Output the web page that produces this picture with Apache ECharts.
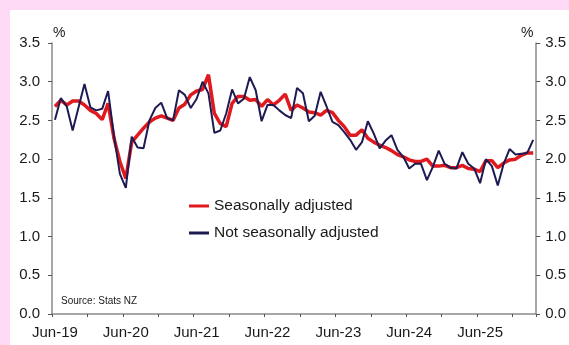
<!DOCTYPE html>
<html>
<head>
<meta charset="utf-8">
<script src="https://cdn.jsdelivr.net/npm/echarts@6/dist/echarts.min.js"></script>
<style>
  html, body { margin: 0; padding: 0; background: #fdd9f5; width: 569px; height: 345px; overflow: hidden; }
  #chart { position: absolute; left: 10px; top: 10px; width: 559px; height: 335px; background: #ffffff; }
</style>
</head>
<body>
<div id="chart"></div>
<script>
// Monthly observations, Jun-19 onwards (annual % change)
const startYear = 2019;
const startMonth = 5; // June (0-based)
const pointCount = 82;

const seasonallyAdjusted = [
  2.68, 2.76, 2.70, 2.75, 2.75, 2.70, 2.63, 2.59, 2.51, 2.72,
  2.27, 1.97, 1.75, 2.22, 2.31, 2.40, 2.48, 2.53, 2.56, 2.53,
  2.50, 2.66, 2.71, 2.83, 2.88, 2.90, 3.09, 2.59, 2.46, 2.42,
  2.72, 2.81, 2.81, 2.76, 2.77, 2.68, 2.77, 2.70, 2.76, 2.84,
  2.63, 2.70, 2.66, 2.61, 2.60, 2.57, 2.63, 2.60, 2.50, 2.42,
  2.31, 2.31, 2.38, 2.27, 2.22, 2.18, 2.15, 2.11, 2.06, 2.03,
  1.99, 1.97, 1.97, 2.00, 1.91, 1.91, 1.92, 1.89, 1.89, 1.92,
  1.88, 1.87, 1.84, 1.98, 1.98, 1.89, 1.95, 1.99, 2.00, 2.05,
  2.08, 2.08
];

const notSeasonallyAdjusted = [
  2.51, 2.79, 2.68, 2.37, 2.67, 2.97, 2.67, 2.63, 2.65, 2.88,
  2.30, 1.81, 1.63, 2.29, 2.15, 2.14, 2.50, 2.66, 2.73, 2.53,
  2.50, 2.89, 2.83, 2.66, 2.78, 3.00, 2.85, 2.34, 2.37, 2.59,
  2.90, 2.72, 2.78, 3.06, 2.89, 2.49, 2.70, 2.70, 2.63, 2.57,
  2.53, 2.92, 2.85, 2.49, 2.56, 2.87, 2.68, 2.48, 2.44, 2.35,
  2.25, 2.12, 2.22, 2.49, 2.33, 2.14, 2.24, 2.31, 2.12, 2.03,
  1.88, 1.94, 1.94, 1.73, 1.90, 2.11, 1.94, 1.89, 1.88, 2.09,
  1.94, 1.88, 1.69, 2.00, 1.91, 1.66, 1.94, 2.13, 2.06, 2.07,
  2.08, 2.25
];

const seriesNames = ['Seasonally adjusted', 'Not seasonally adjusted'];
const yTicks = { min: 0, max: 3.5, step: 0.5 };

const monthNames = ['Jan','Feb','Mar','Apr','May','Jun','Jul','Aug','Sep','Oct','Nov','Dec'];
const categories = [];
for (let i = 0; i < pointCount; i++) {
  const m = startMonth + i;
  const yr = startYear + Math.floor(m / 12);
  categories.push(monthNames[m % 12] + '-' + String(yr % 100).padStart(2, '0'));
}

const FONT = '"Liberation Sans", Arial, Helvetica, sans-serif';
const TEXT = '#1a1a1a';
const AXIS = '#8a8a8a';
const RED = '#e0191f';
const NAVY = '#1d1b52';

const chart = echarts.init(document.getElementById('chart'), null, { renderer: 'canvas' });

const yAxisBase = {
  type: 'value',
  min: yTicks.min,
  max: yTicks.max,
  interval: yTicks.step,
  splitLine: { show: false },
  axisLine: { show: true, lineStyle: { color: AXIS, width: 1.5 } },
  axisTick: { show: true, length: 4, lineStyle: { color: '#555', width: 1 } },
  axisLabel: {
    fontFamily: FONT, fontSize: 15, color: TEXT,
    formatter: v => v.toFixed(1)
  }
};

chart.setOption({
  animation: false,
  backgroundColor: '#ffffff',
  grid: { left: 42, right: 32, top: 33, bottom: 31, containLabel: false },
  xAxis: {
    type: 'category',
    data: categories,
    boundaryGap: true,
    axisLine: { show: true, lineStyle: { color: AXIS, width: 1.5 } },
    axisTick: {
      show: true, length: 3, alignWithLabel: false,
      interval: (i) => i % 6 === 0,
      lineStyle: { color: '#555', width: 1 }
    },
    axisLabel: {
      interval: (i) => i % 12 === 0,
      fontFamily: FONT, fontSize: 15, color: TEXT, margin: 11
    },
    splitLine: { show: false }
  },
  yAxis: [
    Object.assign({}, yAxisBase, { position: 'left', axisLabel: Object.assign({}, yAxisBase.axisLabel, { margin: 12 }) }),
    Object.assign({}, yAxisBase, { position: 'right', axisLabel: Object.assign({}, yAxisBase.axisLabel, { margin: 9 }) })
  ],
  legend: {
    orient: 'vertical',
    left: 174,
    top: 182,
    itemWidth: 20,
    itemHeight: 3,
    itemGap: 9,
    textStyle: { fontFamily: FONT, fontSize: 15.5, color: TEXT, lineHeight: 18 },
    data: [
      { name: seriesNames[0], icon: 'rect', itemStyle: { color: RED } },
      { name: seriesNames[1], icon: 'rect', itemStyle: { color: NAVY } }
    ]
  },
  graphic: [
    { type: 'text', left: 43, top: 16, style: { text: '%', font: '14px ' + FONT, fill: TEXT } },
    { type: 'text', left: 511, top: 16, style: { text: '%', font: '14px ' + FONT, fill: TEXT } },
    { type: 'text', left: 51, top: 286, style: { text: 'Source: Stats NZ', font: '10px ' + FONT, fill: TEXT } }
  ],
  series: [
    {
      name: seriesNames[0],
      type: 'line',
      data: seasonallyAdjusted,
      symbol: 'none',
      lineStyle: { color: RED, width: 3.5 },
      itemStyle: { color: RED },
      z: 2
    },
    {
      name: seriesNames[1],
      type: 'line',
      data: notSeasonallyAdjusted,
      symbol: 'none',
      lineStyle: { color: NAVY, width: 2 },
      itemStyle: { color: NAVY },
      z: 3
    }
  ]
});
</script>
</body>
</html>
